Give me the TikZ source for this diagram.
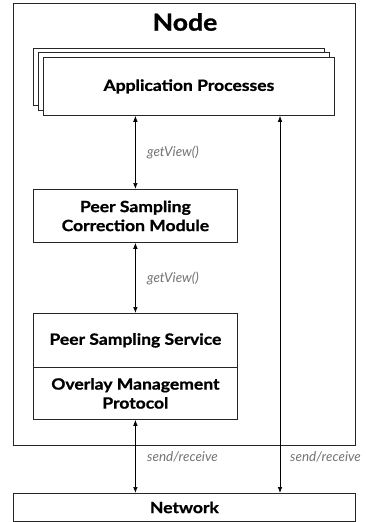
\documentclass[tikz,border=0pt]{standalone}
\usepackage{fontspec}
\setmainfont{Lato}
\newfontfamily\boxfont{Lato}[FakeStretch=1.13,FakeBold=1]
\usetikzlibrary{arrows.meta,calc}
\begin{document}
\begin{tikzpicture}[x=1pt,y=-1pt,
  box/.style={draw=black!85,line width=0.8pt,fill=white,anchor=north west,inner sep=0pt,align=center,font=\boxfont\fontsize{15.5}{19}\selectfont\bfseries},
  arr/.style={line width=0.7pt,{Latex[length=6pt,width=4.5pt]}-{Latex[length=6pt,width=4.5pt]}},
  lab/.style={anchor=west,inner sep=0pt,text=black!55,font=\fontsize{13.5}{15}\selectfont\itshape}]
\useasboundingbox (0,0) rectangle (365,522);
\node[box,minimum width=342pt,minimum height=442pt] (nodebox) at (13,3) {};
\node[font=\boxfont\fontsize{23.5}{28}\selectfont\bfseries] (title) at (185,22) {Node};
\node[box,minimum width=291pt,minimum height=57pt] (app3) at (33,48) {};
\node[box,minimum width=291pt,minimum height=58pt] (app2) at (38,52) {};
\node[box,minimum width=291pt,minimum height=58pt] (app) at (43,57) {Application Processes};
\node[box,minimum width=204pt,minimum height=53pt] (pscm) at (33,189) {Peer Sampling\\Correction Module};
\node[box,minimum width=204pt,minimum height=54pt] (pss) at (33,313) {Peer Sampling Service};
\node[box,minimum width=204pt,minimum height=52pt] (omp) at (33,367) {Overlay Management\\Protocol};
\node[box,minimum width=342pt,minimum height=28pt] (net) at (13,493) {Network};
\coordinate (r) at (280,0);
\draw[arr] (pscm.north |- app.south) -- (pscm.north);
\draw[arr] (pscm.south) -- (pss.north);
\draw[arr] (omp.south) -- (omp.south |- net.north);
\draw[arr] (app.south -| r) -- (net.north -| r);
\node[lab] (g1) at (147,152) {getView()};
\node[lab] (g2) at (147,278) {getView()};
\node[lab] (s1) at (147,457) {send/receive};
\node[lab] (s2) at (290,457) {send/receive};
\end{tikzpicture}
\end{document}
